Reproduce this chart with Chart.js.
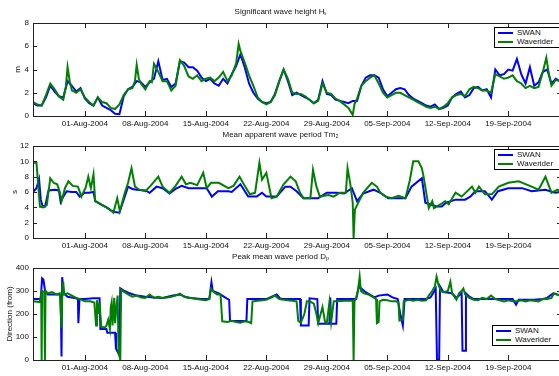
<!DOCTYPE html>
<html>
<head>
<meta charset="utf-8">
<script src="https://cdn.jsdelivr.net/npm/chart.js@4.4.0/dist/chart.umd.min.js"></script>
<style>
html, body { margin: 0; padding: 0; background: #fff; overflow: hidden; width: 559px; height: 376px; }
.panel { position: absolute; left: 0; }
canvas { display: block; }
.legend { position: absolute; width: 72px; height: 19px; border: 1px solid #000; background: #fff;
  font: 8px "Liberation Sans", Arial, sans-serif; color: #111; }
.legend div { position: relative; height: 8px; line-height: 8px; margin-top: 1px; padding-left: 22px; }
.legend span { position: absolute; left: 3px; top: 3px; width: 15px; height: 2px; }
</style>
</head>
<body>
<div class="panel" style="top:0"><canvas id="hsChart" width="565" height="130"></canvas></div>
<div class="panel" style="top:125px"><canvas id="tmChart" width="565" height="130"></canvas></div>
<div class="panel" style="top:250px"><canvas id="dpChart" width="565" height="126"></canvas></div>

<div class="legend" style="left:494px;top:27px"><div><span style="background:#0000ff"></span>SWAN</div><div><span style="background:#008000"></span>Waverider</div></div>
<div class="legend" style="left:494px;top:149px"><div><span style="background:#0000ff"></span>SWAN</div><div><span style="background:#008000"></span>Waverider</div></div>
<div class="legend" style="left:492px;top:325px"><div><span style="background:#0000ff"></span>SWAN</div><div><span style="background:#008000"></span>Waverider</div></div>

<script>
// days counted from 01-Aug-2004
const tickDays = [0, 7, 14, 21, 28, 35, 42, 49];
const tickLabels = ['01-Aug-2004', '08-Aug-2004', '15-Aug-2004', '22-Aug-2004',
  '29-Aug-2004', '05-Sep-2004', '12-Sep-2004', '19-Sep-2004'];

// significant wave height (m)
const hsSwan = [[-6,1.1],[-5.5,0.9],[-5,0.9],[-4.5,1.6],[-4,2.6],[-3.5,2.1],[-3,1.7],[-2.5,1.6],[-2,3.0],[-1.5,2.6],
  [-1,2.1],[-0.5,2.4],[0,1.5],[0.5,1.1],[1,0.9],[1.5,1.6],[2,0.9],[2.5,0.7],[3,0.5],[3.5,0.2],[4,0.15],[4.5,1.7],
  [5,2.3],[5.5,2.5],[6,3.0],[6.5,2.9],[7,2.5],[7.5,2.9],[8,3.2],[8.5,4.7],[9,3.1],[9.5,3.2],[10,2.5],[10.5,2.8],
  [11,4.7],[11.5,4.6],[12,4.2],[12.5,4.2],[13,3.9],[13.5,3.3],[14,3.0],[14.5,3.2],[15,2.8],[15.5,2.6],[16,3.2],
  [16.5,2.8],[17,3.6],[17.5,4.3],[18,5.3],[18.5,4.2],[19,2.8],[19.5,2.0],[20,1.5],[20.5,1.2],[21,1.1],[21.5,1.2],
  [22,1.9],[22.5,3.0],[23,4.0],[23.5,3.0],[24,1.8],[24.5,2.0],[25,1.8],[25.5,1.6],[26,1.4],[26.5,1.1],[27,1.4],
  [27.5,3.0],[28,1.9],[28.5,1.8],[29,1.4],[29.5,1.3],[30,1.2],[30.5,1.1],[31,1.3],[31.5,1.3],[32,2.6],[32.5,3.3],
  [33,3.5],[33.5,3.5],[34,3.3],[34.5,2.3],[35,1.7],[35.5,2.0],[36,2.3],[36.5,2.4],[37,2.3],[37.5,1.8],[38,1.5],
  [38.5,1.3],[39,1.1],[39.5,0.9],[40,0.8],[40.5,1.0],[41,0.6],[41.5,0.7],[42,0.9],[42.5,1.6],[43,1.9],[43.5,2.1],
  [44,1.6],[44.5,1.8],[45,2.4],[45.5,2.5],[46,2.2],[46.5,2.3],[47,1.6],[47.5,4.0],[48,3.5],[48.5,3.6],[49,4.0],
  [49.5,3.9],[50,4.9],[50.5,3.6],[51,2.8],[51.5,4.2],[52,2.6],[52.5,2.9],[53,3.8],[53.5,4.0],[54,2.8],[54.5,3.2],[55,3.0]];
const hsBuoy = [[-6,1.2],[-5.5,1.0],[-5,0.9],[-4.5,1.8],[-4,2.8],[-3.5,2.3],[-3,1.7],[-2.5,1.4],[-2.2,2.5],[-2,4.2],
  [-1.75,3.0],[-1.5,2.2],[-1,2.0],[-0.5,2.3],[0,1.6],[0.5,1.2],[1,0.9],[1.5,1.6],[2,1.2],[2.5,1.1],[3,0.7],[3.5,0.6],
  [4,1.0],[4.5,1.8],[5,2.3],[5.5,2.4],[5.8,3.0],[6,4.4],[6.25,3.2],[6.5,2.8],[7,2.3],[7.5,3.0],[7.75,2.9],[8,4.5],
  [8.5,3.8],[9,3.0],[9.5,3.0],[10,2.2],[10.5,2.6],[11,4.8],[11.5,4.3],[12,3.4],[12.5,3.2],[13,3.5],[13.5,3.0],
  [14,3.2],[14.5,3.3],[15,3.0],[15.5,3.3],[16,3.8],[16.5,3.0],[17,3.5],[17.5,4.5],[17.8,6.2],[18,5.6],[18.5,4.6],
  [19,3.5],[19.5,2.6],[20,1.6],[20.5,1.2],[21,1.0],[21.5,1.2],[22,1.8],[22.5,3.0],[23,4.0],[23.5,3.2],[24,2.0],
  [24.5,1.9],[25,1.9],[25.5,1.7],[26,1.4],[26.5,1.1],[27,1.3],[27.5,2.8],[28,2.0],[28.5,1.9],[29,1.5],[29.5,1.3],
  [30,1.0],[30.5,0.7],[31,0.1],[31.2,1.0],[31.5,1.5],[32,2.6],[32.5,3.0],[33,3.3],[33.5,3.5],[34,2.8],[34.5,2.0],
  [35,1.6],[35.5,1.8],[36,2.0],[36.5,2.0],[37,1.8],[37.5,1.6],[38,1.4],[38.5,1.2],[39,1.0],[39.5,0.8],[40,0.7],
  [40.5,0.8],[41,0.6],[41.5,0.8],[42,1.1],[42.5,1.6],[43,1.8],[43.5,1.9],[44,1.7],[44.5,2.3],[45,2.5],[45.5,2.4],
  [46,2.2],[46.5,2.2],[47,2.0],[47.5,3.6],[48,3.4],[48.5,3.2],[49,3.3],[49.5,3.5],[50,3.0],[50.5,2.8],[51,2.4],
  [51.5,2.6],[52,2.4],[52.5,2.5],[53,3.8],[53.4,5.0],[53.7,3.6],[54,2.6],[54.5,3.1],[55,3.0]];

// mean apparent wave period (s)
const tmSwan = [[-6,6.0],[-5.6,6.5],[-5.3,7.7],[-5.1,5.0],[-4.9,4.2],[-4.6,4.1],[-4.2,6.2],[-3.5,6.3],[-3,6.2],
  [-2.8,4.7],[-2.5,5.4],[-2.1,6.1],[-1.5,6.0],[-1,6.0],[-0.6,5.4],[0,5.9],[0.5,5.9],[1,6.0],[1.2,4.8],[1.5,4.6],
  [2,4.3],[2.5,4.0],[3,3.6],[3.5,3.4],[4,3.3],[4.5,5.0],[5,6.7],[5.5,6.4],[6,6.3],[7,6.2],[7.5,5.9],[8.3,6.7],
  [9,6.5],[9.8,5.8],[10.5,6.4],[11.2,6.8],[12,6.5],[13,6.5],[14.1,6.5],[14.7,5.4],[15.4,6.1],[16.6,6.1],[17,6.0],
  [18,7.0],[18.9,5.4],[19.9,5.4],[20.5,5.9],[21,5.4],[22.2,5.4],[23.2,6.7],[23.8,6.7],[24.5,6.1],[25.3,5.2],[27,5.2],
  [28,5.9],[29.2,5.9],[30,5.8],[30.9,6.5],[31.5,4.8],[32.2,5.8],[33.4,6.3],[34.2,5.9],[35.1,5.2],[37.1,5.2],
  [37.8,6.7],[39,7.8],[39.4,4.6],[40.7,4.1],[41.3,4.1],[41.8,4.6],[42.9,5.0],[44,5.0],[44.6,5.4],[45.2,6.1],
  [46.3,6.1],[47.1,5.0],[47.8,6.1],[49,6.5],[50.6,6.5],[51.7,6.1],[53.3,6.3],[54.4,5.9],[55,6.0]];
const tmBuoy = [[-6,9.8],[-5.6,9.8],[-5.4,7.0],[-5.2,4.1],[-4.8,4.0],[-4.4,4.3],[-4.0,7.8],[-3.6,7.2],[-3.2,7.0],
  [-2.9,6.0],[-2.7,4.8],[-2.3,6.5],[-1.9,7.4],[-1.4,6.8],[-0.8,6.7],[-0.4,5.4],[0.1,6.6],[0.4,8.0],[0.7,6.5],
  [1.0,8.3],[1.2,4.8],[1.7,4.5],[2.2,4.2],[2.8,3.8],[3.3,3.3],[3.75,5.2],[4.05,3.5],[4.6,5.8],[5.0,7.2],[5.4,9.1],
  [5.8,6.7],[6.3,6.3],[7.0,6.1],[7.6,6.8],[8.5,8.0],[9.0,6.7],[9.8,5.9],[10.5,6.8],[11.2,8.0],[11.7,7.0],[12.2,7.2],
  [13.0,6.9],[13.7,8.5],[14.1,6.5],[14.6,7.2],[15.5,7.2],[16.6,6.5],[17.2,6.8],[17.9,8.0],[18.5,6.8],[19.1,5.7],
  [19.7,5.9],[20.2,9.8],[20.5,7.6],[21.0,8.5],[21.6,5.2],[22.2,5.4],[23.0,7.0],[23.8,8.0],[24.4,7.4],[24.9,5.9],
  [25.3,5.2],[26.1,5.2],[26.4,8.9],[26.8,6.7],[27.2,5.4],[28.2,5.6],[28.8,5.4],[29.5,5.9],[30.2,5.9],[30.4,9.1],
  [30.7,7.2],[31.0,4.6],[31.1,0.0],[31.25,3.7],[32.2,5.9],[33.2,7.2],[33.8,6.7],[34.2,5.9],[34.8,5.4],[35.5,5.2],
  [36.3,5.5],[37.1,5.2],[37.6,7.5],[38.0,10.0],[38.6,10.0],[39.0,9.1],[39.2,8.0],[39.8,3.9],[40.2,4.8],[40.4,3.9],
  [41.3,4.5],[41.7,4.8],[42.1,4.4],[42.9,5.9],[43.6,5.4],[44.8,6.7],[45.2,5.9],[45.6,6.7],[46.3,5.7],[47.1,5.7],
  [47.9,6.7],[49.0,7.2],[50.2,7.4],[51.7,6.7],[52.5,6.3],[53.3,8.0],[54.0,5.9],[54.7,6.3],[55,6.0]];

// peak wave direction (deg, from)
const dpSwan = [[-6,265],[-5.1,265],[-4.95,355],[-4.8,350],[-4.6,300],[-4.3,285],[-3,285],[-2.8,280],[-2.7,15],
  [-2.62,360],[-2.45,290],[-2,275],[-1,268],[-0.8,265],[-0.75,160],[-0.62,265],[0,265],[1,268],[1.7,268],[1.8,135],
  [2.5,135],[2.6,118],[3.5,118],[3.6,50],[4.0,20],[4.1,312],[4.6,300],[5.2,290],[6,280],[7,275],[8,272],[9,270],
  [10.2,280],[11,285],[11.6,275],[12.5,268],[13.5,265],[14.4,265],[14.65,338],[14.8,300],[15.5,290],[16.4,268],
  [16.7,262],[16.8,170],[18.7,170],[18.8,265],[21,265],[22.2,285],[22.6,268],[23,265],[24.9,265],[25.0,150],
  [25.9,150],[26.0,268],[26.9,265],[27.0,158],[28.3,158],[28.4,272],[28.5,158],[29.1,158],[29.2,265],[31.4,265],
  [31.7,320],[32.5,295],[33.5,272],[34,280],[35,285],[35.6,272],[36.2,265],[36.5,200],[36.8,150],[37,265],[39.5,265],
  [40,272],[40.6,310],[40.75,0],[41.0,0],[41.1,320],[41.5,295],[42.5,290],[43,270],[43.6,290],[43.7,40],[44.0,40],
  [44.1,290],[44.5,275],[45,265],[47,265],[48,265],[49.5,265],[49.9,240],[50.2,262],[52,262],[53,265],[53.5,270],
  [54.2,290],[55,280]];
const dpBuoy = [[-6,255],[-5.2,252],[-5.05,290],[-5.0,0],[-4.95,300],[-4.7,295],[-4.62,0],[-4.55,300],[-4.3,290],
  [-3.8,295],[-3.3,285],[-2.9,290],[-2.7,140],[-2.6,300],[-2.5,340],[-2.4,285],[-2,290],[-1.5,280],[-1.0,270],
  [-0.6,265],[0,255],[0.6,255],[1.1,250],[1.3,150],[1.4,260],[1.6,200],[1.7,250],[1.9,145],[2.3,140],[2.5,150],
  [2.7,175],[2.9,135],[3.0,230],[3.1,250],[3.2,150],[3.4,270],[3.5,160],[3.7,250],[3.8,280],[3.9,30],[4.0,20],
  [4.1,0],[4.2,305],[4.6,295],[5,285],[5.5,275],[6,280],[6.5,272],[7,270],[7.5,285],[8,270],[8.5,275],[9,270],
  [9.5,272],[10,275],[10.5,280],[11,288],[11.5,275],[12,270],[12.5,268],[13,265],[13.5,262],[14,260],[14.4,265],
  [14.6,310],[14.8,300],[15.3,285],[15.7,285],[15.9,168],[16.5,165],[17,170],[17.5,165],[18,162],[18.5,168],
  [19,165],[19.25,160],[19.4,255],[20,258],[20.5,260],[21,262],[21.5,270],[22,280],[22.5,265],[23,262],[23.5,260],
  [24,258],[24.5,255],[24.7,170],[25,162],[25.4,200],[25.7,255],[26,255],[26.5,245],[26.8,200],[27,160],[27.5,230],
  [27.8,165],[28,160],[28.3,250],[28.5,165],[28.8,255],[29.2,255],[30,258],[31.0,258],[31.1,0],[31.2,255],[31.4,270],
  [31.6,300],[31.8,362],[31.95,300],[32.3,290],[32.8,285],[33.3,275],[33.7,265],[33.8,160],[34.0,165],[34.1,255],
  [34.5,262],[35,260],[35.5,255],[36,255],[36.3,250],[36.4,172],[36.8,175],[36.9,255],[37.5,262],[38,258],[38.5,262],
  [39,258],[39.5,260],[39.8,280],[40.2,300],[40.5,320],[40.7,362],[40.9,330],[41.2,300],[41.5,295],[42,300],
  [42.3,340],[42.5,290],[43,262],[43.3,290],[43.6,300],[43.8,311],[44.0,285],[44.5,270],[45,262],[45.5,260],
  [46,270],[46.5,265],[47,280],[47.5,265],[48,260],[48.5,255],[49,260],[49.5,255],[50,255],[50.5,260],[51,255],
  [51.5,260],[52,258],[52.5,255],[53,265],[53.5,265],[54,270],[54.3,290],[54.5,288],[55,280]];

Chart.defaults.font.family = '"Liberation Sans", Arial, Helvetica, sans-serif';
Chart.defaults.font.size = 8;
Chart.defaults.color = '#111';

// matlab style frame with inward ticks on all four sides
const matlabBox = {
  id: 'matlabBox',
  afterDraw(chart) {
    const { ctx, chartArea: a, scales: { x, y } } = chart;
    ctx.save();
    ctx.strokeStyle = '#222';
    ctx.lineWidth = 1;
    ctx.beginPath();
    x.ticks.forEach(t => {
      const px = Math.round(x.getPixelForValue(t.value)) + 0.5;
      ctx.moveTo(px, a.bottom); ctx.lineTo(px, a.bottom - 5);
      ctx.moveTo(px, a.top); ctx.lineTo(px, a.top + 5);
    });
    y.ticks.forEach(t => {
      const py = Math.round(y.getPixelForValue(t.value)) + 0.5;
      ctx.moveTo(a.left, py); ctx.lineTo(a.left + 4, py);
      ctx.moveTo(a.right, py); ctx.lineTo(a.right - 4, py);
    });
    ctx.stroke();
    ctx.strokeRect(Math.round(a.left) + 0.5, Math.round(a.top) + 0.5, Math.round(a.width), Math.round(a.height));
    ctx.restore();
  }
};

function makePanel(id, cfg) {
  const toXY = arr => arr.map(p => ({ x: p[0], y: p[1] }));
  return new Chart(document.getElementById(id), {
    type: 'line',
    data: {
      datasets: [
        { label: 'SWAN', data: toXY(cfg.swan), borderColor: '#0000ff', borderWidth: 2,
          pointRadius: 0, tension: 0, order: 2 },
        { label: 'Waverider', data: toXY(cfg.buoy), borderColor: '#008000', borderWidth: 2,
          pointRadius: 0, tension: 0, order: 1 }
      ]
    },
    options: {
      responsive: false,
      animation: false,
      events: [],
      layout: { padding: { left: 0, right: 4, top: 0, bottom: cfg.padBottom } },
      plugins: {
        legend: { display: false },
        tooltip: { enabled: false },
        title: { display: true, text: cfg.title, font: { size: 8, weight: 'normal' }, color: '#111',
          padding: { top: cfg.titleTop, bottom: cfg.titleBottom } }
      },
      scales: {
        x: {
          type: 'linear', min: -6, max: 55.1,
          grid: { display: false, drawTicks: false },
          border: { display: false },
          afterBuildTicks: s => { s.ticks = tickDays.map(v => ({ value: v })); },
          afterFit: s => { s.height = 14; },
          ticks: { padding: 3, maxRotation: 0, autoSkip: false,
            callback: v => tickLabels[tickDays.indexOf(v)] }
        },
        y: {
          min: 0, max: cfg.yMax,
          grid: { display: false, drawTicks: false },
          border: { display: false },
          afterFit: s => { s.width = 33; },
          ticks: { stepSize: cfg.yStep, padding: 4 },
          title: { display: true, text: cfg.yTitle, font: { size: 8 },
            padding: { top: cfg.yTitlePad, bottom: 0 } }
        }
      }
    },
    plugins: [matlabBox]
  });
}

makePanel('hsChart', { swan: hsSwan, buoy: hsBuoy, title: 'Significant wave height Hₛ',
  yMax: 8, yStep: 2, yTitle: 'm', yTitlePad: 13, titleTop: 7, titleBottom: 6.4, padBottom: 0 });
makePanel('tmChart', { swan: tmSwan, buoy: tmBuoy, title: 'Mean apparent wave period Tm₂',
  yMax: 12, yStep: 2, yTitle: 's', yTitlePad: 10, titleTop: 5, titleBottom: 6.4, padBottom: 3 });
makePanel('dpChart', { swan: dpSwan, buoy: dpBuoy, title: 'Peak mean wave period Dₚ',
  yMax: 400, yStep: 100, yTitle: 'Direction (from)', yTitlePad: 5, titleTop: 2, titleBottom: 6.4, padBottom: 2 });
</script>
</body>
</html>
